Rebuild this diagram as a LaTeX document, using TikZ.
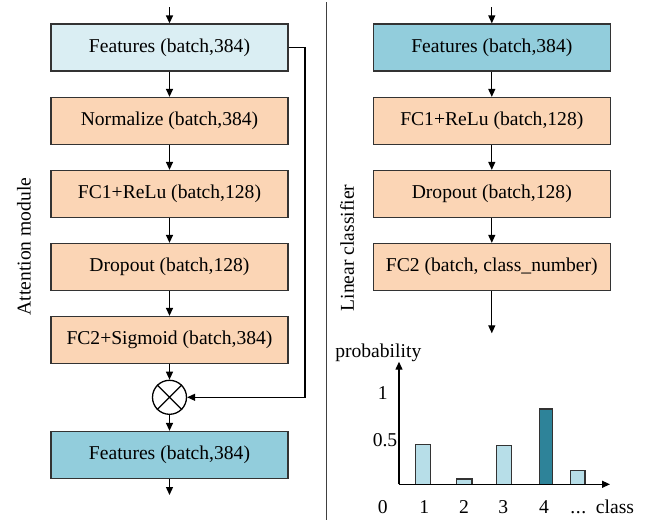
\documentclass[tikz,border=0pt]{standalone}
\usepackage{fontspec}
\setmainfont{Liberation Serif}
\newfontfamily\tmsfont{Liberation Serif}
\usetikzlibrary{arrows.meta}
\definecolor{lightblue}{HTML}{DAEEF3}
\definecolor{peach}{HTML}{FBD5B5}
\definecolor{tealbox}{HTML}{92CDDC}
\definecolor{barlight}{HTML}{B7DEE8}
\definecolor{bardark}{HTML}{2E8399}
\definecolor{edge}{HTML}{333333}
\begin{document}
\begin{tikzpicture}[x=1pt,y=-1pt,
  every node/.style={font=\tmsfont\fontsize{19.6}{23}\selectfont},
  box/.style={draw=edge,line width=1.3pt,minimum width=237pt,minimum height=47pt,inner sep=0pt},
  conn/.style={line width=1.3pt,-{Triangle[length=8pt,width=7pt]}},
  bar/.style={draw=edge,line width=1.2pt}]
\useasboundingbox (0,0) rectangle (649,520);
% divider
\draw[line width=1.3pt,color=black!75] (326.7,2) -- (326.7,520);
% left column
\node[box,fill=lightblue] (f1) at (169.5,47.5) {Features (batch,384)};
\node[box,fill=peach] (n1) at (169.5,121) {Normalize (batch,384)};
\node[box,fill=peach] (fc1) at (169.5,194) {FC1+ReLu (batch,128)};
\node[box,fill=peach] (d1) at (169.5,267) {Dropout (batch,128)};
\node[box,fill=peach] (fc2) at (169.5,340) {FC2+Sigmoid (batch,384)};
\node[draw,circle,line width=1.3pt,minimum size=34pt,inner sep=0pt] (mul) at (169.5,397.3) {};
\draw[line width=1.3pt] (mul.north east) -- (mul.south west) (mul.north west) -- (mul.south east);
\node[box,fill=tealbox] (f2) at (169.5,455) {Features (batch,384)};
\coordinate (lin) at (169.5,7);
\coordinate (lout) at (169.5,495);
\draw[conn] (lin) -- (f1);
\draw[conn] (f1) -- (n1);
\draw[conn] (n1) -- (fc1);
\draw[conn] (fc1) -- (d1);
\draw[conn] (d1) -- (fc2);
\draw[conn] (fc2) -- (mul);
\draw[conn] (mul) -- (f2);
\draw[conn] (f2) -- (lout);
\coordinate (sk) at (305,47.5);
\draw[conn] (f1.east) -- (sk) |- (mul.east);
\node[rotate=90] (lab1) at (24,246.5) {Attention module};
% right column
\node[box,fill=tealbox] (g1) at (491.8,47.5) {Features (batch,384)};
\node[box,fill=peach] (g2) at (491.8,121) {FC1+ReLu (batch,128)};
\node[box,fill=peach] (g3) at (491.8,194) {Dropout (batch,128)};
\node[box,fill=peach] (g4) at (491.8,267) {FC2 (batch, class\_number)};
\coordinate (rin) at (491.8,7);
\coordinate (rout) at (491.8,333.3);
\draw[conn] (rin) -- (g1);
\draw[conn] (g1) -- (g2);
\draw[conn] (g2) -- (g3);
\draw[conn] (g3) -- (g4);
\draw[conn] (g4) -- (rout);
\node[rotate=90] (lab2) at (347,248) {Linear classifier};
% chart
\coordinate (o) at (399,484.3);
\coordinate (ytip) at (399,361.7);
\coordinate (xtip) at (610,484.3);
\draw[bar,fill=barlight] (415.7,484.3) rectangle (430.3,444.3);
\draw[bar,fill=barlight] (456.7,484.3) rectangle (472,479);
\draw[bar,fill=barlight] (496.7,484.3) rectangle (511.3,445.3);
\draw[bar,fill=bardark] (539.3,484.3) rectangle (552.7,409);
\draw[bar,fill=barlight] (570.7,484.3) rectangle (585,470.3);
\draw[conn] (o) -- (ytip);
\draw[conn] (o) -- (xtip);
\node (prob) at (378.3,353) {probability};
\node (y1) at (382.7,392.7) {1};
\node (y05) at (385,440) {0.5};
\node (y0) at (382.7,506.7) {0};
\node (x1) at (424.3,506.7) {1};
\node (x2) at (464,506.7) {2};
\node (x3) at (503.3,506.7) {3};
\node (x4) at (544,506.7) {4};
\node (xd) at (578.3,506.7) {\vphantom{1}.\kern0.5pt.\kern0.5pt.};
\node (xc) at (615,506.7) {class};
\end{tikzpicture}
\end{document}
